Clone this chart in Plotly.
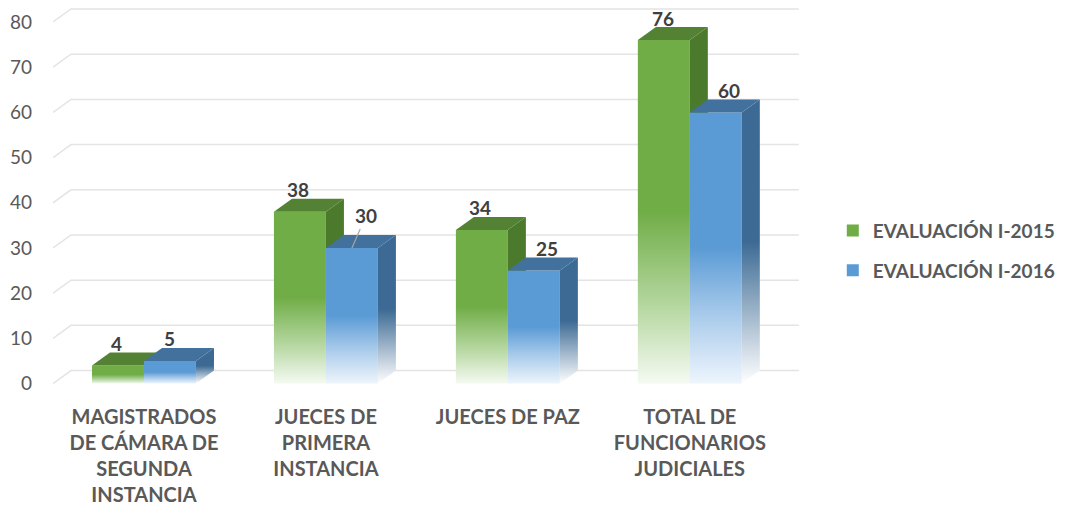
import plotly.graph_objects as go

categories = ["MAGISTRADOS<br>DE CÁMARA DE<br>SEGUNDA<br>INSTANCIA",
              "JUECES DE<br>PRIMERA<br>INSTANCIA",
              "JUECES DE PAZ",
              "TOTAL DE<br>FUNCIONARIOS<br>JUDICIALES"]
series_names = ["EVALUACIÓN I-2015", "EVALUACIÓN I-2016"]
values_2015 = [4, 38, 34, 76]
values_2016 = [5, 30, 25, 60]
y_ticks = [0, 10, 20, 30, 40, 50, 60, 70, 80]

# style
FONT = "Lato"
W = 0.2857          # bar width in category units
DX = 0.099          # depth offset x (category units)
DY = 2.88           # depth offset y (value units)
XMIN, XMAX = -0.5, 3.6
YMIN, YMAX = -1.2, 83.1

styles = [
    dict(front=[[0, "#F5FAF2"], [0.22, "#B7D8A2"], [0.5, "#70AD47"], [1, "#70AD47"]],
         side=[[0, "#F2F6EE"], [0.5, "#4C7A2C"], [1, "#4C7A2C"]],
         top="#548235", legend="#70AD47",
         lab_dx=[-1, -2, -2, -1]),
    dict(front=[[0, "#EEF5FC"], [0.25, "#A9CBEB"], [0.5, "#5B9BD5"], [1, "#5B9BD5"]],
         side=[[0, "#FFFFFF"], [0.5, "#3C6A94"], [1, "#3C6A94"]],
         top="#41719C", legend="#5B9BD5",
         lab_dx=[0, 14, 13, 13]),
]

fig = go.Figure()

# back-wall gridlines with left-wall slant
gx, gy = [], []
for v in y_ticks:
    gx += [XMIN, XMIN + DX, XMAX - 0.001, None]
    gy += [v, v + DY, v + DY, None]
fig.add_trace(go.Scatter(x=gx, y=gy, mode="lines", line=dict(color="#E4E4E4", width=1.5),
                         hoverinfo="skip", showlegend=False))

series_values = [values_2015, values_2016]
for i in range(len(categories)):
    for s, vals in enumerate(series_values):
        v = vals[i]
        st = styles[s]
        xl = i - W + s * W
        xr = xl + W
        # front face
        fig.add_trace(go.Scatter(x=[xl, xr, xr, xl, xl], y=[0, 0, v, v, 0], mode="lines",
                                 fill="toself", line=dict(width=0),
                                 fillgradient=dict(type="vertical", colorscale=st["front"]),
                                 hoverinfo="skip", showlegend=False))
        # side face
        fig.add_trace(go.Scatter(x=[xr, xr + DX, xr + DX, xr, xr], y=[0, DY, v + DY, v, 0],
                                 mode="lines", fill="toself", line=dict(width=0),
                                 fillgradient=dict(type="vertical", colorscale=st["side"]),
                                 hoverinfo="skip", showlegend=False))
        # top face
        fig.add_trace(go.Scatter(x=[xl, xr, xr + DX, xl + DX, xl], y=[v, v, v + DY, v + DY, v],
                                 mode="lines", fill="toself", fillcolor=st["top"],
                                 line=dict(width=0), hoverinfo="skip", showlegend=False))

# legend entries
for s, name in enumerate(series_names):
    fig.add_trace(go.Scatter(x=[None], y=[None], mode="markers", name=name,
                             legendgroup=name,
                             marker=dict(symbol="square", size=12, color=styles[s]["legend"])))

# data labels
for i in range(len(categories)):
    for s, vals in enumerate(series_values):
        v = vals[i]
        xc = i - W / 2 + s * W
        ann = dict(x=xc, y=v, text=str(v), xshift=styles[s]["lab_dx"][i],
                   font=dict(family=FONT, size=19, color="#404040", weight="bold"))
        if s == 1 and i == 1:
            ann.update(showarrow=True, arrowhead=0, arrowwidth=1.2, arrowcolor="#A6A6A6",
                       ax=14, ay=-32, xshift=0)
        else:
            ann.update(showarrow=False, yshift=22, yanchor="middle")
        fig.add_annotation(**ann)

fig.update_layout(
    width=1068, height=510,
    margin=dict(l=45, r=276.8, t=0.4, b=128.6),
    paper_bgcolor="white", plot_bgcolor="white",
    showlegend=True,
    legend=dict(x=1.0453, xanchor="left", y=0.363, yanchor="middle",
                font=dict(family=FONT, size=19, color="#595959", weight="bold"),
                tracegroupgap=12),
    xaxis=dict(range=[XMIN, XMAX], tickvals=list(range(len(categories))), ticktext=categories,
               showgrid=False, zeroline=False, showline=False, ticks="",
               ticklabelstandoff=14,
               tickfont=dict(family=FONT, size=20, color="#595959", weight="bold")),
    yaxis=dict(range=[YMIN, YMAX], tickvals=y_ticks, showgrid=False, zeroline=False,
               showline=False, ticks="", ticklabelstandoff=20,
               tickfont=dict(family=FONT, size=19, color="#595959")),
)

fig.write_html("out.html")
